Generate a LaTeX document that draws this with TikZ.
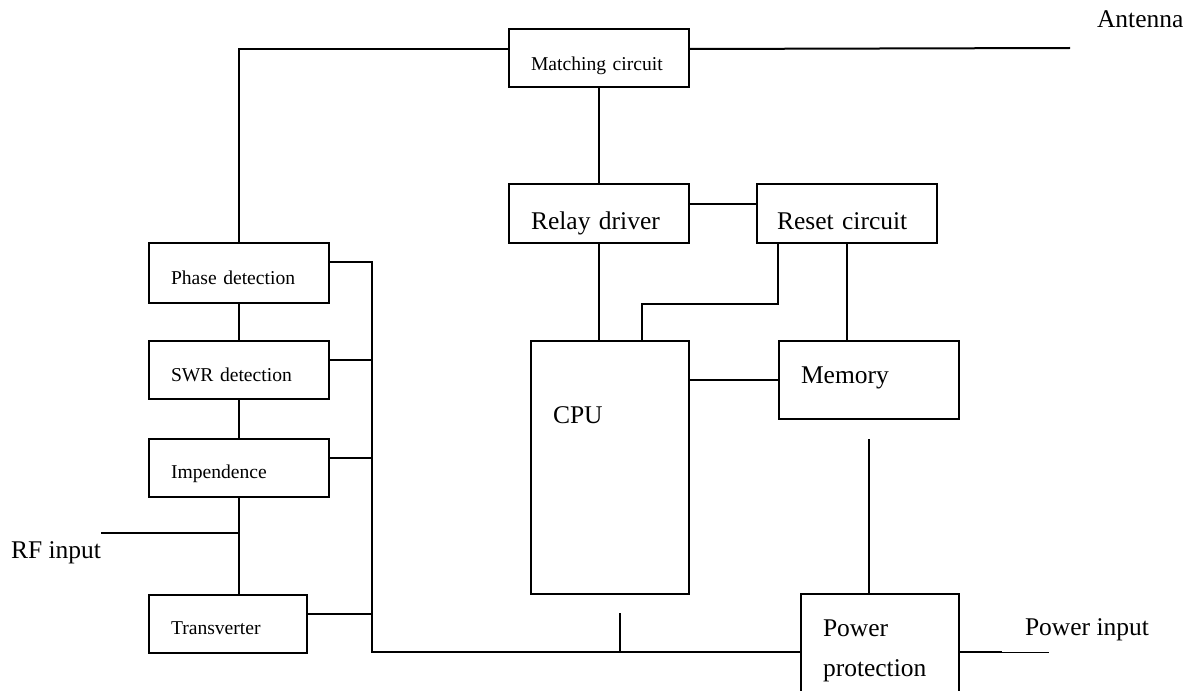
\documentclass[tikz,border=0pt]{standalone}
\usepackage{fontspec}
\setmainfont{Liberation Serif}

\tikzset{
  blk/.style={draw, line width=1pt, anchor=north west, inner xsep=11pt, inner ysep=0pt, align=left},
  smalltxt/.style={font=\fontsize{9.8}{12}\selectfont},
  bigtxt/.style={font=\fontsize{12.75}{20}\selectfont},
  lbl/.style={anchor=base west, inner sep=0pt, bigtxt},
}

\begin{document}
\begin{tikzpicture}[x=0.5pt, y=-0.5pt, line width=1pt]
\useasboundingbox (0,0) rectangle (1186,690);
\clip (0,0) rectangle (1186,690);

% control side
\node[blk, smalltxt, text width=68pt, text height=21pt, text depth=8pt] (match) at (508,28) {Matching circuit};
\node[blk, bigtxt, text width=68pt, text height=22.5pt, text depth=7pt] (relay) at (508,183) {Relay driver};
\node[blk, bigtxt, inner xsep=10pt, text width=70pt, text height=22.5pt, text depth=7pt] (reset) at (756,183) {Reset circuit};
\node[blk, bigtxt, text width=57pt, text height=41pt, text depth=85.5pt] (cpu) at (530,340) {CPU};
\node[blk, bigtxt, text width=68pt, text height=21pt, text depth=18pt] (mem) at (778,340) {Memory};
\node[blk, bigtxt, text width=57pt, text height=21pt, text depth=34pt] (power) at (800,593) {Power\\protection};

% detection chain
\node[blk, smalltxt, text width=68pt, text height=20.5pt, text depth=9.5pt] (phase) at (148,242) {Phase detection};
\node[blk, smalltxt, text width=68pt, text height=20pt, text depth=9pt] (swr) at (148,340) {SWR detection};
\node[blk, smalltxt, text width=68pt, text height=19.5pt, text depth=9.5pt] (imp) at (148,438) {Impendence};
\node[blk, smalltxt, text width=57pt, text height=19.5pt, text depth=9.5pt] (trans) at (148,594) {Transverter};

% outside connections
\node[lbl] (antenna) at (1096,28) {Antenna};
\node[lbl, anchor=base east] (rfin) at (102,558) {RF input};
\node[lbl] (pwrin) at (1024,635) {Power input};

\coordinate (antend) at (1070,48);
\coordinate (rfend) at (101,533);
\coordinate (pwrmid) at (1002,652);
\coordinate (pwrend) at (1049,652);
\coordinate (busend) at (372,652);
\coordinate (tick) at (620,613);
\coordinate (cpuin) at ([xshift=56pt]cpu.north west);
\coordinate (resetout) at ([xshift=11pt]reset.south west);

% wires
\draw (phase.north) |- ([yshift=4.5pt]match.west);
\draw ([yshift=4.5pt]match.east) -- (antend);
\draw (match) -- (relay);
\draw ([yshift=4.75pt]relay.east) -- ([yshift=4.75pt]reset.west);
\draw (relay.south) -- (relay.south |- cpu.north);
\draw (resetout) -- ++(0,60) -| (cpuin);
\draw (reset.south) -- (reset.south |- mem.north);
\draw (mem.west) -- (mem.west -| cpu.east);
\draw ([yshift=-9.5pt]mem.south) -- (mem.south |- power.north);
\draw (busend -| power.east) -- (pwrmid);
\draw[line width=0.5pt] (pwrmid) -- (pwrend);

% bus
\draw ([yshift=-10pt]phase.north east) -| (busend) -- (busend -| power.west);
\foreach \b in {swr, imp, trans}
  \draw ([yshift=-10pt]\b.north east) coordinate (tap) -- (tap -| busend);
\draw (tick) -- (tick |- busend);

\draw (phase) -- (swr);
\draw (swr) -- (imp);
\draw (imp.south) -- (imp.south |- trans.north);
\draw (rfend) -- (rfend -| imp.south);
\end{tikzpicture}
\end{document}
